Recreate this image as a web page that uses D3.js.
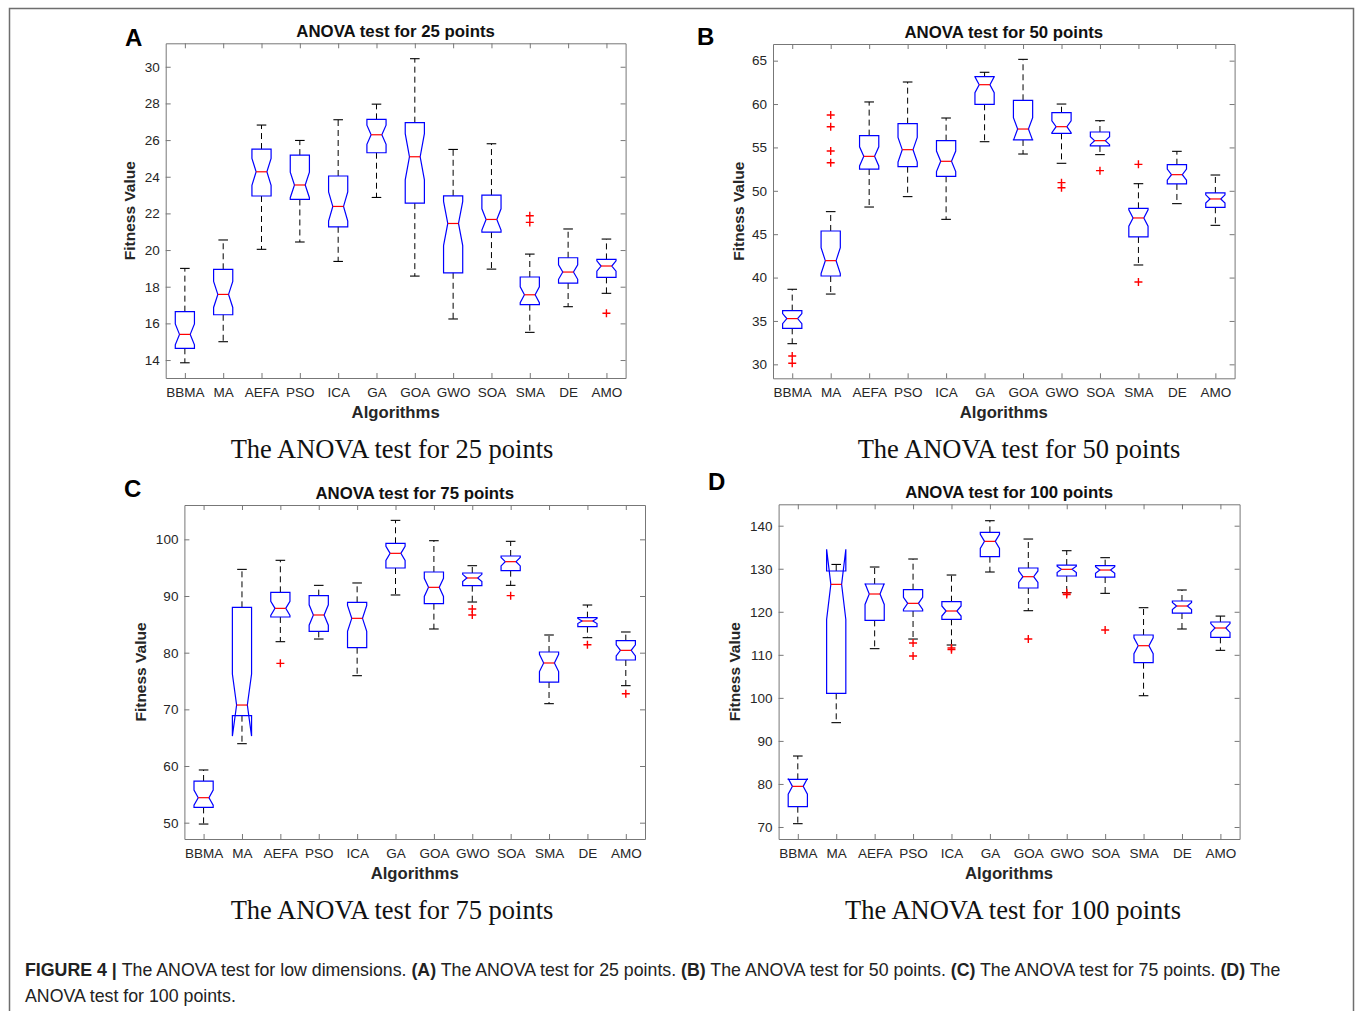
<!DOCTYPE html>
<html>
<head>
<meta charset="utf-8">
<script src="https://cdn.jsdelivr.net/npm/d3@7"></script>
<style>
  body { margin: 0; background: #fff; }
  svg text { font-family: "Liberation Sans", Arial, sans-serif; }
</style>
</head>
<body>
<svg id="fig" width="1355" height="1011"></svg>
<script>
// algorithms on the x axis (same for all four panels)
var categories = ['BBMA', 'MA', 'AEFA', 'PSO', 'ICA', 'GA', 'GOA', 'GWO', 'SOA', 'SMA', 'DE', 'AMO'];

// 25 points
var lo25  = [13.85, 15.0, 20.04, 20.44, 19.38, 22.87, 18.58, 16.24, 18.96, 15.51, 16.91, 17.64];
var q1_25 = [14.64, 16.47, 22.95, 22.76, 21.27, 25.31, 22.56, 18.76, 20.98, 17.02, 18.2, 18.51];
var med25 = [15.4, 17.58, 24.27, 23.55, 22.38, 26.29, 25.09, 21.45, 21.67, 17.56, 18.8, 19.13];
var q3_25 = [16.64, 18.95, 25.51, 25.18, 24.04, 27.13, 26.95, 22.96, 23.0, 18.53, 19.58, 19.49];
var hi25  = [19.0, 20.55, 26.82, 25.98, 27.11, 27.96, 30.44, 25.49, 25.8, 19.78, 21.15, 20.6];
var out25 = [[], [], [], [], [], [], [], [], [], [21.87, 21.51], [], [16.55]];

// 50 points
var lo50  = [32.38, 38.1, 48.13, 49.33, 46.71, 55.66, 54.24, 53.17, 54.17, 41.45, 48.52, 46.02];
var q1_50 = [34.15, 40.18, 52.51, 52.78, 51.67, 59.97, 55.86, 56.62, 55.17, 44.68, 50.79, 48.1];
var med50 = [35.27, 41.95, 53.97, 54.74, 53.4, 62.23, 57.12, 57.39, 55.78, 46.87, 51.86, 49.06];
var q3_50 = [36.19, 45.37, 56.36, 57.74, 55.78, 63.16, 60.43, 59.0, 56.78, 47.98, 53.01, 49.75];
var hi50  = [38.65, 47.6, 60.24, 62.54, 58.39, 63.66, 65.15, 60.0, 58.08, 50.82, 54.55, 51.82];
var out50 = [[30.96, 30.12], [58.74, 57.39, 54.59, 53.24], [], [], [], [], [], [50.94, 50.36], [52.32], [53.05, 39.49], [], []];

// 75 points
var lo75  = [49.76, 63.94, 81.94, 82.41, 75.94, 90.18, 84.18, 88.94, 91.88, 71.0, 82.65, 74.18];
var q1_75 = [52.7, 68.88, 86.3, 83.76, 80.88, 94.94, 88.65, 91.82, 94.47, 74.82, 84.59, 78.71];
var med75 = [54.41, 70.76, 87.82, 86.65, 86.06, 97.53, 91.53, 93.18, 96.06, 78.18, 85.59, 80.41];
var q3_75 = [57.35, 88.0, 90.65, 90.06, 88.88, 99.3, 94.24, 94.06, 97.06, 80.12, 86.18, 82.12];
var hi75  = [59.3, 94.7, 96.3, 91.88, 92.3, 103.35, 99.76, 95.35, 99.65, 83.12, 88.41, 83.65];
var out75 = [[], [], [78.12], [], [], [], [], [87.7, 86.65], [90.06], [], [81.41], [72.76]];

// 100 points
var lo100  = [70.77, 94.24, 111.43, 113.67, 112.28, 129.24, 120.25, 124.44, 124.28, 100.5, 116.0, 111.04];
var q1_100 = [74.72, 101.05, 118.0, 120.18, 118.24, 132.8, 125.52, 128.31, 128.07, 108.17, 119.71, 114.06];
var med100 = [79.44, 126.37, 124.13, 121.96, 120.18, 136.36, 128.15, 129.86, 129.7, 112.12, 121.34, 116.23];
var q3_100 = [81.07, 129.47, 126.45, 125.13, 122.34, 138.45, 130.17, 130.86, 130.71, 114.6, 122.5, 117.62];
var hi100  = [86.49, 131.0, 130.4, 132.26, 128.54, 141.16, 136.9, 134.19, 132.57, 120.95, 125.06, 119.0];
var out100 = [[], [], [], [112.74, 109.72], [111.6, 111.2], [], [113.67], [124.4, 124.0], [115.76], [], [], []];

// axis limits and tick values
var yLim25 = [13.02, 31.28],  yTicks25 = [14, 16, 18, 20, 22, 24, 26, 28, 30];
var yLim50 = [28.39, 66.92],  yTicks50 = [30, 35, 40, 45, 50, 55, 60, 65];
var yLim75 = [47.12, 106.06], yTicks75 = [50, 60, 70, 80, 90, 100];
var yLim100 = [67.21, 144.97], yTicks100 = [70, 80, 90, 100, 110, 120, 130, 140];

var nRuns = 30; // used for the notch width (MATLAB: 1.57*IQR/sqrt(n))

var svg = d3.select('#fig');
svg.append('rect').attr('width', 1355).attr('height', 1011).attr('fill', '#fff');

// frame round the figure
svg.append('path')
    .attr('d', 'M9.5,1011 V8.5 H1353.5 V1011')
    .attr('fill', 'none').attr('stroke', '#6e6e6e').attr('stroke-width', 1.5);

var panels = [
    {letter: 'A', pts: 25, lo: lo25, q1: q1_25, med: med25, q3: q3_25, hi: hi25, out: out25, yLim: yLim25, ticks: yTicks25,
     x0: 165.7, x1: 625.6, y0: 43.3, y1: 378, lx: 125, ly: 46, ylabX: 129.6, capX: 392, capY: 458},
    {letter: 'B', pts: 50, lo: lo50, q1: q1_50, med: med50, q3: q3_50, hi: hi50, out: out50, yLim: yLim50, ticks: yTicks50,
     x0: 773, x1: 1234.6, y0: 44, y1: 378.3, lx: 697, ly: 45, ylabX: 738.6, capX: 1019, capY: 458},
    {letter: 'C', pts: 75, lo: lo75, q1: q1_75, med: med75, q3: q3_75, hi: hi75, out: out75, yLim: yLim75, ticks: yTicks75,
     x0: 184.4, x1: 645, y0: 505, y1: 839, lx: 124, ly: 497, ylabX: 140.5, capX: 392, capY: 919},
    {letter: 'D', pts: 100, lo: lo100, q1: q1_100, med: med100, q3: q3_100, hi: hi100, out: out100, yLim: yLim100, ticks: yTicks100,
     x0: 778.6, x1: 1239.6, y0: 504.3, y1: 839, lx: 708, ly: 490, ylabX: 734.7, capX: 1013, capY: 919}
];

panels.forEach(drawPanel);

function styleAxis(sel) {
    sel.attr('font-family', null).attr('font-size', null);
    sel.selectAll('path.domain, line').attr('stroke', '#777').attr('stroke-width', 1);
    sel.selectAll('text').attr('fill', '#262626').style('font-size', '13.5px');
}

function drawPanel(p) {
    var x = d3.scalePoint().domain(categories).range([p.x0, p.x1]).padding(0.5);
    var y = d3.scaleLinear().domain(p.yLim).range([p.y1, p.y0]);
    var g = svg.append('g');

    var step = x.step(), bw = step * 0.5, capW = bw * 0.5, ins = bw * 0.22;

    // box round the axes, ticks pointing in
    g.append('g').attr('transform', 'translate(0,' + p.y1 + ')')
        .call(d3.axisBottom(x).tickSize(-5).tickSizeOuter(0).tickPadding(9)).call(styleAxis);
    g.append('g').attr('transform', 'translate(0,' + p.y0 + ')')
        .call(d3.axisTop(x).tickSize(-5).tickSizeOuter(0).tickFormat('')).call(styleAxis);
    g.append('g').attr('transform', 'translate(' + p.x0 + ',0)')
        .call(d3.axisLeft(y).tickValues(p.ticks).tickSize(-5).tickSizeOuter(0).tickPadding(6)).call(styleAxis);
    g.append('g').attr('transform', 'translate(' + p.x1 + ',0)')
        .call(d3.axisRight(y).tickValues(p.ticks).tickSize(-5).tickSizeOuter(0).tickFormat('')).call(styleAxis);

    var rows = categories.map(function(c, i) {
        return {cat: c, lo: p.lo[i], q1: p.q1[i], med: p.med[i], q3: p.q3[i], hi: p.hi[i], out: p.out[i]};
    });

    var box = g.selectAll('g.box').data(rows).enter().append('g').attr('class', 'box');

    // whiskers
    box.append('line')
        .attr('x1', d => x(d.cat)).attr('x2', d => x(d.cat))
        .attr('y1', d => y(d.q3)).attr('y2', d => y(d.hi))
        .attr('stroke', '#000').attr('stroke-width', 1).attr('stroke-dasharray', '6,4');
    box.append('line')
        .attr('x1', d => x(d.cat)).attr('x2', d => x(d.cat))
        .attr('y1', d => y(d.q1)).attr('y2', d => y(d.lo))
        .attr('stroke', '#000').attr('stroke-width', 1).attr('stroke-dasharray', '6,4');
    ['hi', 'lo'].forEach(function(k) {
        box.append('line')
            .attr('x1', d => x(d.cat) - capW / 2).attr('x2', d => x(d.cat) + capW / 2)
            .attr('y1', d => y(d[k])).attr('y2', d => y(d[k]))
            .attr('stroke', '#000').attr('stroke-width', 1.1);
    });

    // notched box
    box.append('path')
        .attr('d', function(d) {
            var L = x(d.cat) - bw / 2, R = x(d.cat) + bw / 2;
            var n = 1.57 * (d.q3 - d.q1) / Math.sqrt(nRuns);
            var pts = [[L, d.q1], [L, d.med - n], [L + ins, d.med], [L, d.med + n], [L, d.q3],
                       [R, d.q3], [R, d.med + n], [R - ins, d.med], [R, d.med - n], [R, d.q1]];
            return 'M' + pts.map(q => q[0] + ',' + y(q[1])).join('L') + 'Z';
        })
        .attr('fill', 'none').attr('stroke', '#0000ff').attr('stroke-width', 1.2);

    // median
    box.append('line')
        .attr('x1', d => x(d.cat) - bw / 2 + ins).attr('x2', d => x(d.cat) + bw / 2 - ins)
        .attr('y1', d => y(d.med)).attr('y2', d => y(d.med))
        .attr('stroke', '#ff0000').attr('stroke-width', 1.2);

    // outliers
    box.selectAll('path.out').data(d => d.out.map(v => ({cat: d.cat, v: v}))).enter()
        .append('path').attr('class', 'out')
        .attr('d', d => {
            var cx = x(d.cat), cy = y(d.v);
            return 'M' + (cx - 4) + ',' + cy + 'H' + (cx + 4) + 'M' + cx + ',' + (cy - 4) + 'V' + (cy + 4);
        })
        .attr('stroke', '#ff0000').attr('stroke-width', 1.4);

    var mid = (p.x0 + p.x1) / 2;
    g.append('text').attr('x', mid).attr('y', p.y0 - 6).attr('text-anchor', 'middle')
        .attr('font-weight', 'bold').attr('font-size', 16.8).attr('fill', '#111')
        .text('ANOVA test for ' + p.pts + ' points');
    g.append('text').attr('x', mid).attr('y', p.y1 + 40).attr('text-anchor', 'middle')
        .attr('font-weight', 'bold').attr('font-size', 16.7).attr('fill', '#262626')
        .text('Algorithms');
    g.append('text')
        .attr('transform', 'translate(' + (p.ylabX + 5.5) + ',' + ((p.y0 + p.y1) / 2) + ') rotate(-90)')
        .attr('text-anchor', 'middle').attr('font-weight', 'bold').attr('font-size', 15.5).attr('fill', '#262626')
        .text('Fitness Value');
    g.append('text').attr('x', p.lx).attr('y', p.ly)
        .attr('font-weight', 'bold').attr('font-size', 24).attr('fill', '#000')
        .text(p.letter);
    g.append('text').attr('x', p.capX).attr('y', p.capY).attr('text-anchor', 'middle')
        .style('font-family', '"Liberation Serif", "Times New Roman", serif')
        .attr('font-size', 26.5).attr('fill', '#111')
        .text('The ANOVA test for ' + p.pts + ' points');
}

// figure caption
var cap1 = svg.append('text').attr('x', 25).attr('y', 976).attr('font-size', 17.75).attr('fill', '#222');
[['FIGURE 4 | ', true], ['The ANOVA test for low dimensions. ', false],
 ['(A)', true], [' The ANOVA test for 25 points. ', false],
 ['(B)', true], [' The ANOVA test for 50 points. ', false],
 ['(C)', true], [' The ANOVA test for 75 points. ', false],
 ['(D)', true], [' The', false]].forEach(function(s) {
    cap1.append('tspan').attr('font-weight', s[1] ? 'bold' : null).text(s[0]);
});
svg.append('text').attr('x', 25).attr('y', 1002).attr('font-size', 17.75).attr('fill', '#222')
    .text('ANOVA test for 100 points.');
</script>
</body>
</html>
